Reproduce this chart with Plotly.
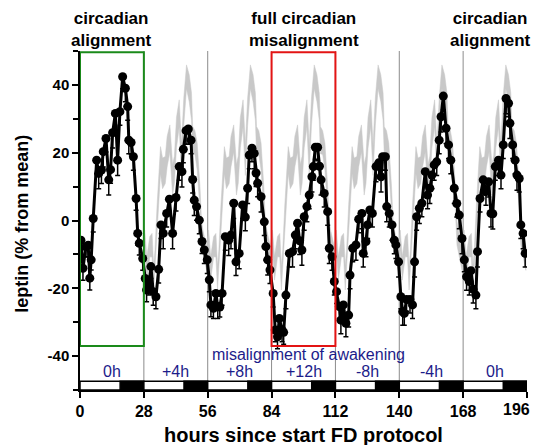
import plotly.graph_objects as go

# leptin (% from mean), hourly-ish samples across the 7 forced-desynchrony cycles
hours = [
    0.4, 1.3, 2.6, 3.6, 4.3, 4.9, 5.8, 7.3, 8.2, 9.4, 10.2, 11.4, 12.6, 13.4,
    14.3, 15.5, 16.5, 17.5, 18.7, 19.9, 20.9, 21.4, 22.4, 23.4, 24.6, 25.3, 26.0, 27.5,
    28.6, 29.2, 30.2, 31.1, 32.1, 33.3, 34.5, 35.5, 36.5, 38.0, 39.2, 40.6, 42.1,
    43.5, 44.7, 45.3, 46.5, 47.5, 48.7, 49.4, 50.1, 51.1, 52.3, 53.5, 54.5, 55.8,
    56.7, 57.4, 58.5, 59.6, 60.4, 61.3, 62.3, 63.7, 65.2, 66.2, 67.4, 68.4, 69.8,
    71.3, 72.5, 73.5, 74.2, 75.4, 76.4, 77.2, 77.9, 79.4, 80.8, 81.5, 82.3, 83.3,
    84.7, 85.6, 86.6, 87.4, 88.6, 89.3, 90.3, 91.8, 93.2, 94.4, 95.4, 96.3, 97.3,
    98.3, 99.5, 100.5, 101.7, 102.3, 103.2, 104.2, 105.0, 105.7, 107.1, 108.6, 109.3,
    110.5, 111.5,
    112.5, 113.7, 114.4, 115.5, 116.6, 117.8, 118.4, 119.6, 121.0, 122.2, 123.6,
    124.2, 125.4, 126.1, 127.1, 128.2, 129.8, 131.0, 132.0, 132.7, 133.9, 134.5,
    135.6, 136.8, 137.8, 138.5, 139.7,
    140.7, 141.5, 142.2, 143.2, 144.7, 145.8, 146.7, 147.6, 148.8, 149.9, 151.4,
    152.4, 153.4, 154.3, 155.3, 156.4, 157.5, 158.3, 159.3, 160.5, 161.6, 162.6,
    164.1, 165.2, 166.3, 167.5,
    168.5, 169.5, 170.7, 171.4, 172.4, 173.6, 174.3, 175.4, 176.8, 178.0, 179.2,
    180.2, 181.0, 182.1, 183.5, 184.6, 185.6, 186.8, 187.9, 188.5, 189.7, 190.8,
    191.6, 192.6, 193.3, 194.3, 195.2,
]
leptin = [
    -5.8, -14.1, -7.7, -7.3, -17.0, -11.6, 0.6, 17.8, 13.9, 14.9, 20.3, 24.2, 12.0, 15.0,
    25.9, 31.6, 17.8, 32.1, 42.4, 39.0, 33.6, 23.7, 23.0, 18.8, 6.5, -3.8, -6.7, -11.2,
    -17.1, -20.5, -19.0, -13.6, -21.0, -22.5, -14.4, -1.3, -3.8, 2.1, 6.3, -3.8, 6.8,
    15.9, 14.4, 21.0, 26.5, 27.0, 23.7, 12.1, 6.0, 4.1, 0.1, -6.2, -8.7, -11.6,
    -17.5, -24.9, -25.9, -21.5, -25.4, -25.5, -21.5, -4.8, -5.8, -4.3, 5.1, -12.2, -9.7,
    4.6, 1.0, 9.5, 19.3, 21.3, 19.8, 14.0, 11.0, 7.0, -0.4, -7.7, -11.6, -14.6,
    -21.5, -32.3, -34.3, -28.9, -32.3, -33.0, -22.0, -9.7, -9.2, -4.3, -0.8, -6.0, -8.7,
    1.1, 4.1, 7.5, 12.9, 15.9, 21.6, 21.6, 16.0, 12.0, 8.0, 2.6, -8.2,
    -10.7, -18.0,
    -21.0, -25.4, -29.4, -24.9, -30.3, -27.9, -16.1, -8.2, -7.2, 0.4, 2.1,
    -9.7, -6.2, -1.3, 3.1, 2.1, 15.9, 17.0, 12.9, 18.8, 18.8, 4.1,
    2.1, -1.3, -5.8, -7.2, -12.2,
    -22.5, -26.9, -27.4, -23.3, -23.3, -24.9, -12.2, 1.1, 3.6, 5.1, 14.4,
    7.5, 9.5, 13.4, 16.4, 17.3, 23.7, 30.6, 36.7, 27.2, 22.3, 17.8,
    9.5, 5.0, 1.6, -5.3,
    -11.6, -16.6, -18.0, -14.8, -20.3, -22.0, -9.2, 6.5, 12.0, 8.5, 11.4,
    2.1, 2.0, 15.9, 17.8, 13.4, 22.3, 36.0, 34.6, 28.7, 22.3, 17.8,
    13.4, 12.4, -1.3, -3.8, -9.7,
]
leptin_sem = [
    3.0, 3.5, 3.0, 3.5, 3.5, 3.0, 4.0, 4.0, 4.5, 4.0, 4.5, 4.0, 4.5, 4.0,
    4.5, 4.0, 4.5, 4.0, 3.5, 4.0, 4.0, 4.0, 3.5, 4.0, 3.5, 3.5, 3.5, 3.5,
    3.5, 3.5, 3.0, 3.5, 4.0, 3.5, 4.0, 4.0, 4.5, 4.0, 4.5, 4.5, 4.0,
    4.0, 4.5, 4.0, 4.0, 4.5, 4.0, 4.0, 4.5, 4.0, 4.0, 3.5, 4.0, 4.0,
    3.5, 3.5, 3.0, 3.5, 3.5, 3.0, 3.5, 4.0, 4.5, 4.0, 4.5, 4.0, 4.5,
    4.0, 4.0, 4.5, 4.0, 4.0, 4.5, 4.0, 4.0, 4.5, 4.0, 4.0, 4.5, 4.0,
    4.0, 3.5, 3.5, 3.0, 3.5, 3.5, 4.0, 4.0, 4.5, 4.0, 4.5, 4.0, 4.5,
    4.0, 4.5, 4.0, 4.5, 4.0, 3.5, 4.0, 4.0, 4.5, 4.0, 4.0, 4.5,
    4.0, 4.0,
    3.5, 3.5, 4.0, 3.5, 4.0, 3.5, 4.0, 4.0, 4.5, 4.0, 4.5,
    4.0, 4.5, 4.0, 4.5, 4.0, 4.5, 4.0, 4.5, 4.0, 4.0, 4.5,
    4.0, 4.5, 4.0, 4.0, 4.5,
    3.5, 4.0, 3.5, 3.5, 4.0, 4.0, 4.5, 4.0, 4.5, 4.0, 4.5,
    4.0, 4.5, 4.0, 4.5, 4.0, 4.0, 4.5, 4.0, 4.5, 4.0, 4.0,
    4.5, 4.0, 4.0, 4.5,
    3.5, 4.0, 4.0, 3.5, 4.0, 4.0, 4.5, 4.0, 4.5, 4.0, 4.5,
    4.0, 4.5, 4.0, 4.5, 4.0, 4.0, 4.5, 4.0, 4.5, 4.0, 4.0,
    4.5, 4.0, 4.0, 4.5, 4.0,
]

cycle_starts = [0, 28, 56, 84, 112, 140, 168]
cycle_len = 28
sleep_onsets = [17.6, 45.6, 73.6, 101.6, 129.6, 157.6, 185.6]
shift_labels = ["0h", "+4h", "+8h", "+12h", "-8h", "-4h", "0h"]
x_ticks = [0, 28, 56, 84, 112, 140, 168, 196]
y_ticks = [-40, -20, 0, 20, 40]
top_labels = ["circadian<br>alignment", "full circadian<br>misalignment", "circadian<br>alignment"]
top_label_cycles = [0, 3, 6]
box_cycles = [0, 3]

x_end = cycle_starts[-1] + cycle_len
bar_lo, bar_hi = -50, -47.4
label_font = "Liberation Sans, Arial, sans-serif"
navy = "#1c1c8a"
bold16 = dict(family=label_font, size=16, color="black", weight="bold")

fig = go.Figure()

# grey band: first (aligned) cycle's mean +/- SEM repeated on each later cycle
n_ref = sum(1 for h in hours if h < cycle_len)
band_x, band_hi, band_lo = [], [], []
for start in cycle_starts[1:]:
    band_x += [start + h for h in hours[:n_ref]]
    band_hi += [v + s for v, s in zip(leptin[:n_ref], leptin_sem[:n_ref])]
    band_lo += [v - s for v, s in zip(leptin[:n_ref], leptin_sem[:n_ref])]

fig.add_trace(go.Scatter(
    x=band_x + band_x[::-1],
    y=band_hi + band_lo[::-1],
    fill="toself",
    fillcolor="#c8c8c8",
    line=dict(color="#c8c8c8", width=0.5),
    mode="lines",
    hoverinfo="skip",
    showlegend=False,
))

# error bars drawn downward only, as in the figure
fig.add_trace(go.Scatter(
    x=hours,
    y=leptin,
    mode="lines+markers",
    line=dict(color="black", width=3),
    marker=dict(color="black", size=9),
    error_y=dict(type="data", symmetric=False, array=[0] * len(leptin_sem),
                 arrayminus=leptin_sem, color="black", thickness=1.5, width=2.5),
    showlegend=False,
))

# cycle separators
for s in cycle_starts[1:]:
    fig.add_shape(type="line", x0=s, x1=s, y0=bar_hi, y1=50,
                  line=dict(color="#8c8c8c", width=1), layer="below")

# sleep/wake bar
fig.add_shape(type="rect", x0=0, x1=x_end, y0=bar_lo, y1=bar_hi,
              fillcolor="white", line=dict(color="black", width=1.5))
for start, onset in zip(cycle_starts, sleep_onsets):
    fig.add_shape(type="rect", x0=onset, x1=start + cycle_len, y0=bar_lo, y1=bar_hi,
                  fillcolor="black", line=dict(color="black", width=1.5))

# highlighted windows
box_colors = ["#1a8a1a", "#e31414"]
for c, col in zip(box_cycles, box_colors):
    fig.add_shape(type="rect", x0=cycle_starts[c], x1=cycle_starts[c] + cycle_len,
                  y0=-37, y1=49.6, line=dict(color=col, width=2), fillcolor="rgba(0,0,0,0)")

for start, lab in zip(cycle_starts, shift_labels):
    fig.add_annotation(x=start + cycle_len / 2, y=-44.6, text=lab, showarrow=False,
                       font=dict(family=label_font, size=16, color=navy))
fig.add_annotation(x=100, y=-39.6, text="misalignment of awakening", showarrow=False,
                   font=dict(family=label_font, size=16, color=navy))

# last label nudged left so it stays inside the page
top_shifts = [0, 0, -5]
for c, lab, dx in zip(top_label_cycles, top_labels, top_shifts):
    fig.add_annotation(x=cycle_starts[c] + cycle_len / 2, xref="x", y=1.063, yref="paper",
                       text=lab, showarrow=False, xanchor="center", yanchor="middle", xshift=dx,
                       font=dict(family=label_font, size=17, color="black", weight="bold"))

# last x tick label drawn right-aligned at the axis end so it is not clipped
fig.add_annotation(x=x_ticks[-1], xref="x", y=0, yref="paper", yanchor="top",
                   xanchor="right", xshift=5, yshift=-9, text=str(x_ticks[-1]),
                   showarrow=False, font=bold16)

fig.add_annotation(x=0.5, xref="paper", y=-0.133, yref="paper",
                   xanchor="center", yanchor="middle",
                   text="hours since start FD protocol", showarrow=False,
                   font=dict(family=label_font, size=20, color="black", weight="bold"))
fig.add_annotation(x=-0.13, xref="paper", y=0.49, yref="paper", textangle=-90,
                   xanchor="center", yanchor="middle",
                   text="leptin (% from mean)", showarrow=False,
                   font=dict(family=label_font, size=18, color="black", weight="bold"))

fig.update_xaxes(
    range=[0, x_end], tickvals=x_ticks,
    ticktext=[str(v) for v in x_ticks[:-1]] + [""],
    ticks="outside", ticklen=6, tickwidth=1.5,
    tickcolor="black", showline=True, linecolor="black", linewidth=1.5,
    showgrid=False, zeroline=False, automargin=False,
    tickfont=bold16,
)
fig.update_yaxes(
    range=[-50, 50], tickvals=y_ticks, ticktext=[str(v) for v in y_ticks],
    ticks="outside", ticklen=6, tickwidth=1.5, tickcolor="black", automargin=False,
    showline=True, linecolor="black", linewidth=1.5, showgrid=False, zeroline=False,
    minor=dict(dtick=10, tick0=0, ticks="outside", ticklen=5, tickwidth=1.5, tickcolor="black"),
    tickfont=dict(family=label_font, size=15, color="black", weight="bold"),
)

# the page adds an 8px body margin, so the figure is sized to fit inside it
fig.update_layout(
    width=525, height=437,
    margin=dict(l=72, r=6, t=43, b=55, autoexpand=False),
    plot_bgcolor="white", paper_bgcolor="white",
    showlegend=False,
)

fig.write_html("out.html")
